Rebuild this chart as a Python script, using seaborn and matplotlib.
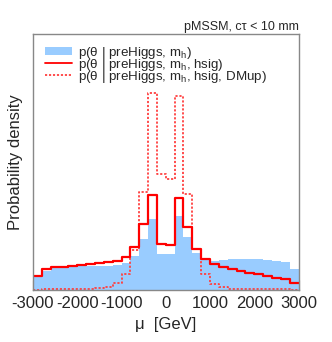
import numpy as np
import pandas as pd
import matplotlib
matplotlib.use("Agg")
import matplotlib.pyplot as plt
import seaborn as sns
from matplotlib.ticker import MultipleLocator
from matplotlib.patches import Patch
from matplotlib.lines import Line2D

# ---- data (arbitrary density units, 30 bins of 200 GeV from -3000 to 3000) ----
mu_range = (-3000, 3000)
n_bins = 30
pre_higgs_mh = [13.3, 19.3, 21.7, 22.7, 23.3, 24.0, 24.0, 24.3, 24.3, 24.7,
                26.7, 34.0, 50.7, 71.0, 35.7, 35.7, 74.0, 52.7, 37.3, 30.0,
                29.0, 29.7, 31.0, 30.7, 30.7, 30.7, 30.0, 29.0, 27.7, 20.7]
pre_higgs_mh_hsig = [14.3, 20.7, 22.7, 23.3, 24.0, 24.7, 26.0, 26.7, 27.7, 29.0,
                     33.3, 42.7, 66.0, 94.8, 46.0, 45.0, 92.3, 63.3, 41.0, 30.7,
                     26.0, 23.3, 21.0, 18.7, 16.7, 15.7, 14.0, 12.3, 10.7, 6.7]
pre_higgs_mh_hsig_dmup = [0.5, 1.0, 1.0, 1.0, 1.0, 1.0, 1.3, 2.0, 2.7, 6.7,
                          16.0, 40.0, 98.5, 197.3, 115.7, 111.0, 194.5, 95.7, 41.0, 16.0,
                          5.7, 2.7, 1.3, 1.3, 1.0, 1.0, 0.8, 0.7, 0.7, 0.5]
series_labels = [r"p(θ | preHiggs, m$_\mathrm{h}$)",
                 r"p(θ | preHiggs, m$_\mathrm{h}$, hsig)",
                 r"p(θ | preHiggs, m$_\mathrm{h}$, hsig, DMup)"]
x_ticks = [-3000, -2000, -1000, 0, 1000, 2000, 3000]
title_text = "pMSSM, cτ < 10 mm"
x_label = "μ  [GeV]"
y_label = "Probability density"

edges = np.linspace(mu_range[0], mu_range[1], n_bins + 1)
centers = 0.5 * (edges[:-1] + edges[1:])
df = pd.DataFrame({"mu": centers,
                   "blue": pre_higgs_mh,
                   "red": pre_higgs_mh_hsig,
                   "dot": pre_higgs_mh_hsig_dmup})

sns.set_theme(style="white")
plt.rcParams["font.family"] = ["Liberation Sans", "DejaVu Sans"]
plt.rcParams["mathtext.fontset"] = "custom"
plt.rcParams["mathtext.rm"] = "Liberation Sans"
plt.rcParams["mathtext.it"] = "Liberation Sans:italic"
plt.rcParams["axes.unicode_minus"] = False

fig = plt.figure(figsize=(3.32, 3.42), dpi=100)
ax = fig.add_axes([33 / 332, (342 - 290) / 342, 265.5 / 332, 256.5 / 342])

blue_c = "#99ccff"
hist_kw = dict(x="mu", bins=n_bins, binrange=mu_range, element="step", ax=ax)
sns.histplot(data=df, weights="blue", fill=True, color=blue_c, alpha=1.0,
             linewidth=0, zorder=1, **hist_kw)
sns.histplot(data=df, weights="red", fill=False, color="#ff0000",
             linewidth=1.6, zorder=3, **hist_kw)
sns.histplot(data=df, weights="dot", fill=False, color="#ff4040",
             linewidth=1.3, linestyle=(0, (1.2, 1.0)), zorder=2, **hist_kw)

ax.set_xlim(*mu_range)
ax.set_ylim(0, 256.5)
ax.set_xticks(x_ticks)
ax.set_xticklabels([str(t) for t in x_ticks])
ax.xaxis.set_minor_locator(MultipleLocator(200))
ax.tick_params(axis="x", which="major", direction="in", length=7, width=0.8,
               color="#333333", labelsize=12, pad=4, top=False, bottom=True)
ax.tick_params(axis="x", which="minor", direction="in", length=3.5, width=0.8,
               color="#333333", top=False, bottom=True)
ax.set_yticks([])
ax.set_xlabel(x_label, fontsize=12, labelpad=5)
ax.set_ylabel(y_label, fontsize=12, labelpad=7)

for s in ax.spines.values():
    s.set_color("#888888")
    s.set_linewidth(1.0)
    s.set_zorder(5)

ax.text(1.0, 1.012, title_text, transform=ax.transAxes, ha="right",
        va="baseline", fontsize=9)

handles = [Patch(facecolor=blue_c, edgecolor="none"),
           Line2D([], [], color="#ff0000", linewidth=1.3),
           Line2D([], [], color="#ff4040", linewidth=1.3, linestyle=(0, (1.2, 1.0)))]
ax.legend(handles, series_labels, loc="upper left", bbox_to_anchor=(0.045, 0.957),
          borderaxespad=0, borderpad=0, frameon=False, fontsize=9.6,
          handlelength=2.0, handleheight=0.5, handletextpad=0.45, labelspacing=-0.3)

fig.savefig("out.png", dpi=100)
